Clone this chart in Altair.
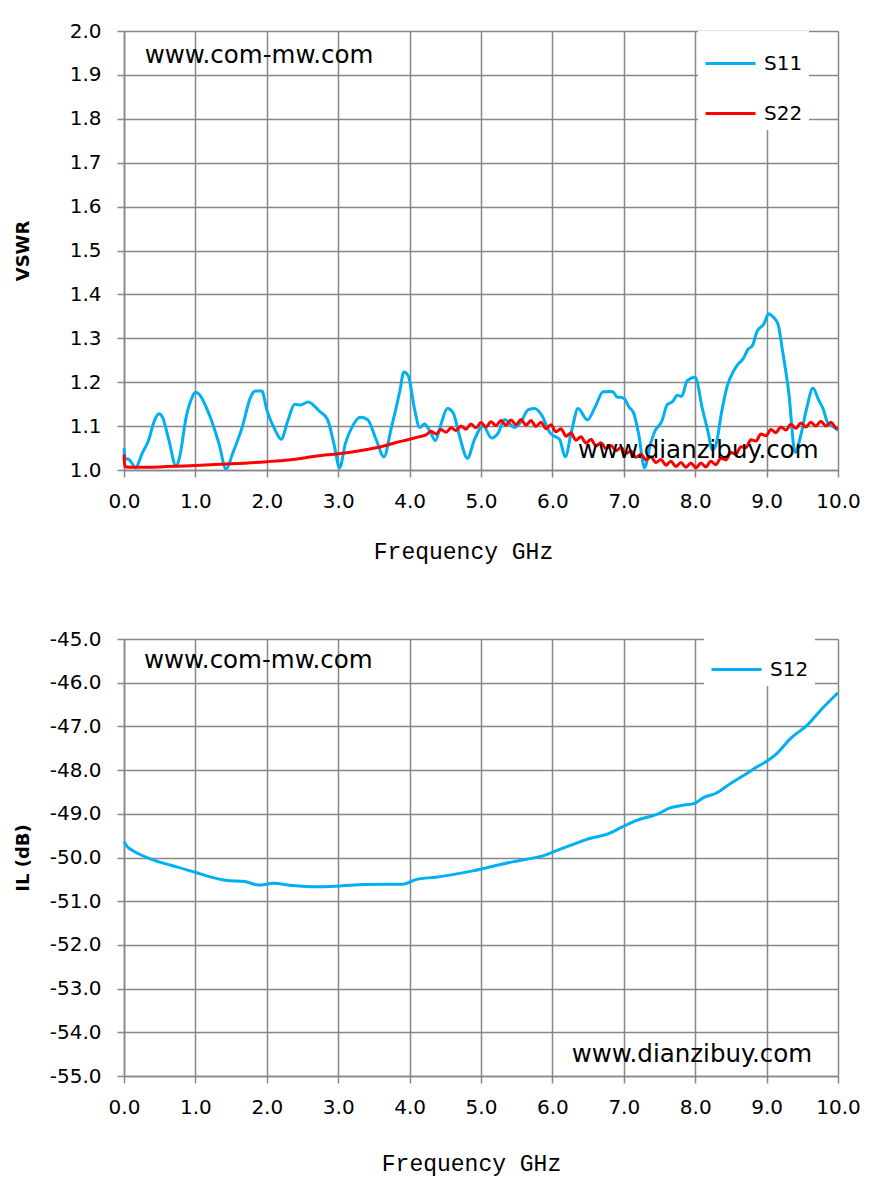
import altair as alt
import pandas as pd

# ---------------- data ----------------
s11_f = [0.00, 0.02, 0.06, 0.10, 0.16, 0.26, 0.35, 0.42, 0.49, 0.54, 0.63, 0.73, 0.78, 0.87, 0.94,
         1.00, 1.05, 1.19, 1.33, 1.43, 1.52, 1.66, 1.77, 1.84, 1.93, 2.00, 2.12, 2.20, 2.30, 2.39,
         2.47, 2.58, 2.73, 2.85, 2.94, 3.02, 3.10, 3.20, 3.31, 3.41, 3.53, 3.64, 3.74, 3.86, 3.92,
         3.98, 4.07, 4.14, 4.21, 4.28, 4.36, 4.44, 4.53, 4.61, 4.70, 4.81, 4.91, 5.03, 5.15, 5.24,
         5.33, 5.47, 5.56, 5.66, 5.75, 5.85, 5.97, 6.03, 6.10, 6.18, 6.27, 6.36, 6.49, 6.60, 6.71,
         6.84, 6.91, 6.95, 7.01, 7.07, 7.14, 7.21, 7.29, 7.37, 7.44, 7.53, 7.61, 7.68, 7.75, 7.81,
         7.89, 8.00, 8.10, 8.18, 8.24, 8.29, 8.37, 8.45, 8.54, 8.60, 8.67, 8.74, 8.80, 8.87, 8.96,
         9.03, 9.09, 9.16, 9.22, 9.31, 9.40, 9.48, 9.56, 9.65, 9.73, 9.79, 9.86, 9.94, 10.00]
s11_v = [1.050, 1.025, 1.025, 1.018, 1.005, 1.040, 1.070, 1.110, 1.128, 1.120, 1.067, 1.008, 1.030, 1.120, 1.160,
         1.177, 1.173, 1.128, 1.060, 1.002, 1.037, 1.100, 1.165, 1.180, 1.180, 1.137, 1.090, 1.070, 1.115, 1.150,
         1.148, 1.155, 1.135, 1.115, 1.060, 1.005, 1.060, 1.100, 1.120, 1.115, 1.070, 1.030, 1.093, 1.177, 1.223,
         1.215, 1.138, 1.097, 1.105, 1.090, 1.067, 1.105, 1.140, 1.130, 1.077, 1.027, 1.070, 1.100, 1.073, 1.084,
         1.115, 1.097, 1.110, 1.137, 1.140, 1.125, 1.084, 1.077, 1.070, 1.030, 1.090, 1.140, 1.114, 1.144, 1.178,
         1.179, 1.166, 1.166, 1.162, 1.144, 1.129, 1.080, 1.005, 1.057, 1.090, 1.110, 1.149, 1.155, 1.170, 1.168,
         1.204, 1.211, 1.140, 1.087, 1.046, 1.057, 1.132, 1.192, 1.226, 1.241, 1.253, 1.275, 1.283, 1.317, 1.332,
         1.356, 1.349, 1.332, 1.275, 1.177, 1.040, 1.080, 1.140, 1.186, 1.159, 1.140, 1.106, 1.098, 1.090]

s22_f = [0.00, 0.01, 0.10, 0.50, 1.00, 1.50, 2.00, 2.30, 2.50, 2.70, 3.00, 3.30, 3.60, 3.80, 4.00,
         4.14, 4.23,
         4.30, 4.37, 4.44, 4.51, 4.58, 4.65, 4.72, 4.79, 4.86, 4.93, 5.00, 5.07, 5.14, 5.21, 5.28,
         5.35, 5.42, 5.49, 5.56, 5.63, 5.70, 5.77, 5.84, 5.91, 5.98, 6.05, 6.12, 6.19, 6.26, 6.33,
         6.40, 6.47, 6.54, 6.61, 6.68, 6.75, 6.82, 6.89, 6.96, 7.03, 7.10, 7.17, 7.24, 7.31, 7.38,
         7.45, 7.52, 7.59, 7.66, 7.73, 7.80, 7.87, 7.94, 8.01, 8.08, 8.15, 8.22, 8.29, 8.36, 8.43,
         8.50, 8.57, 8.64, 8.71, 8.78, 8.85, 8.92, 8.99, 9.06, 9.13, 9.20, 9.27, 9.34, 9.41, 9.48,
         9.55, 9.62, 9.69, 9.76, 9.83, 9.90, 9.97, 10.00]
s22_v = [1.035, 1.008, 1.006, 1.007, 1.010, 1.014, 1.019, 1.023, 1.027, 1.032, 1.037, 1.044, 1.053, 1.062, 1.070,
         1.076, 1.080,
         1.088, 1.082, 1.092, 1.086, 1.096, 1.090, 1.100, 1.093, 1.105, 1.096, 1.108, 1.098, 1.110, 1.101, 1.113,
         1.102, 1.114, 1.103, 1.115, 1.102, 1.113, 1.099, 1.109, 1.094, 1.103, 1.087, 1.094, 1.077, 1.084, 1.068,
         1.076, 1.061, 1.070, 1.055, 1.062, 1.049, 1.056, 1.044, 1.051, 1.038, 1.043, 1.029, 1.036, 1.023, 1.030,
         1.017, 1.024, 1.011, 1.020, 1.008, 1.017, 1.006, 1.016, 1.005, 1.016, 1.007, 1.020, 1.012, 1.027, 1.023,
         1.040, 1.036, 1.053, 1.051, 1.069, 1.066, 1.082, 1.078, 1.092, 1.085, 1.098, 1.091, 1.104, 1.095, 1.107,
         1.098, 1.109, 1.100, 1.111, 1.100, 1.109, 1.096, 1.095]

s12_f = [0.00, 0.05, 0.11, 0.21, 0.35, 0.55, 0.75, 1.02, 1.22, 1.42, 1.69, 1.89, 2.09, 2.36, 2.69,
         3.03, 3.36, 3.70, 3.90, 4.10, 4.37, 4.64, 4.90, 5.17, 5.44, 5.71, 5.91, 6.11, 6.31, 6.51,
         6.78, 6.98, 7.18, 7.45, 7.66, 7.85, 7.99, 8.13, 8.29, 8.50, 8.69, 8.87, 9.00, 9.15, 9.34,
         9.57, 9.78, 10.00]
s12_v = [-49.64, -49.76, -49.83, -49.92, -50.02, -50.13, -50.22, -50.35, -50.45, -50.52, -50.55, -50.63, -50.59, -50.64, -50.67,
         -50.65, -50.62, -50.61, -50.61, -50.50, -50.45, -50.38, -50.30, -50.20, -50.10, -50.02, -49.94, -49.81, -49.69, -49.57,
         -49.46, -49.30, -49.15, -49.02, -48.86, -48.80, -48.76, -48.62, -48.53, -48.30, -48.11, -47.92, -47.80, -47.61, -47.27,
         -46.97, -46.59, -46.23]

x_ticks = [0, 1, 2, 3, 4, 5, 6, 7, 8, 9, 10]
vswr_ticks = [1.0, 1.1, 1.2, 1.3, 1.4, 1.5, 1.6, 1.7, 1.8, 1.9, 2.0]
il_ticks = [-55, -54, -53, -52, -51, -50, -49, -48, -47, -46, -45]

top_notes_text = ["www.com-mw.com", "www.dianzibuy.com"]
top_notes_f = [0.29, 6.36]
top_notes_v = [1.927, 1.027]
bot_notes_text = ["www.com-mw.com", "www.dianzibuy.com"]
bot_notes_f = [0.28, 6.27]
bot_notes_v = [-45.66, -54.68]

# ---------------- tables ----------------
top_df = pd.DataFrame({
    "f": s11_f + s22_f,
    "v": s11_v + s22_v,
    "series": ["S11"] * len(s11_f) + ["S22"] * len(s22_f),
})
bot_df = pd.DataFrame({"f": s12_f, "v": s12_v, "series": ["S12"] * len(s12_f)})
top_notes = pd.DataFrame({"f": top_notes_f, "v": top_notes_v, "t": top_notes_text})
bot_notes = pd.DataFrame({"f": bot_notes_f, "v": bot_notes_v, "t": bot_notes_text})

BLUE = "#00B0F0"
RED = "#FF0000"
GRID = "#878787"
W = 714

common_axis = dict(
    gridColor=GRID, gridWidth=1.5, gridOpacity=1,
    domainColor=GRID, domainWidth=1.5,
    tickColor=GRID, tickWidth=1.5, tickSize=7,
    labelFont="DejaVu Sans", labelFontSize=20, labelColor="black",
    titleColor="black",
)
LABEL_EXPR = "(datum.value < 0 ? '-' : '') + format(abs(datum.value), '.1f')"


def x_enc(title_x, title_y):
    return alt.X(
        "f:Q",
        scale=alt.Scale(domain=[0, 10], nice=False, zero=False),
        axis=alt.Axis(
            values=x_ticks, labelExpr=LABEL_EXPR, title="Frequency GHz",
            titleFont="Liberation Mono", titleFontSize=23, titleFontWeight="normal",
            titleX=title_x, titleY=title_y, titleBaseline="middle", titleAlign="center",
            labelPadding=14, labelFlush=False, labelOverlap=False,
            **common_axis,
        ),
    )


def y_enc(domain, ticks, title, h):
    return alt.Y(
        "v:Q",
        scale=alt.Scale(domain=domain, nice=False, zero=False),
        axis=alt.Axis(
            values=ticks, labelExpr=LABEL_EXPR, title=title,
            titleFont="DejaVu Sans", titleFontSize=18, titleFontWeight="bold",
            titleX=-101, titleY=h / 2, titleBaseline="middle", titleAlign="center",
            labelPadding=16, labelOverlap=False,
            **common_axis,
        ),
    )


def legend(lx, ly):
    return alt.Legend(
        title=None, orient="none", legendX=lx, legendY=ly,
        fillColor="white", padding=6, rowPadding=13,
        symbolType="stroke", symbolSize=2500, symbolStrokeWidth=3,
        labelFont="DejaVu Sans", labelFontSize=20, labelColor="black", labelOffset=7,
    )


H1 = 439
top_lines = alt.Chart(top_df).mark_line(strokeWidth=3, interpolate="monotone").encode(
    x=x_enc(339, 81),
    y=y_enc([1, 2], vswr_ticks, "VSWR", H1),
    color=alt.Color("series:N", scale=alt.Scale(domain=["S11", "S22"], range=[BLUE, RED]),
                    legend=legend(574, 0)),
)
top_text = alt.Chart(top_notes).mark_text(
    font="DejaVu Sans", fontSize=24.5, align="left", baseline="alphabetic", color="black"
).encode(x="f:Q", y="v:Q", text="t:N")
top = alt.layer(top_lines, top_text).properties(width=W, height=H1)

H2 = 437
bot_lines = alt.Chart(bot_df).mark_line(strokeWidth=3, interpolate="monotone").encode(
    x=x_enc(347, 87),
    y=y_enc([-55, -45], il_ticks, "IL (dB)", H2),
    color=alt.Color("series:N", scale=alt.Scale(domain=["S12"], range=[BLUE]),
                    legend=legend(580, -2)),
)
bot_text = alt.Chart(bot_notes).mark_text(
    font="DejaVu Sans", fontSize=24.5, align="left", baseline="alphabetic", color="black"
).encode(x="f:Q", y="v:Q", text="t:N")
bottom = alt.layer(bot_lines, bot_text).properties(width=W, height=H2)

chart = (
    alt.vconcat(top, bottom, spacing=64)
    .resolve_scale(color="independent")
    .properties(padding={"left": 5, "top": 12, "right": 5, "bottom": 5})
    .configure_view(stroke=GRID, strokeWidth=1.5)
    .configure(background="white")
)

chart.save("out.html", embed_options={"renderer": "svg", "actions": False})
